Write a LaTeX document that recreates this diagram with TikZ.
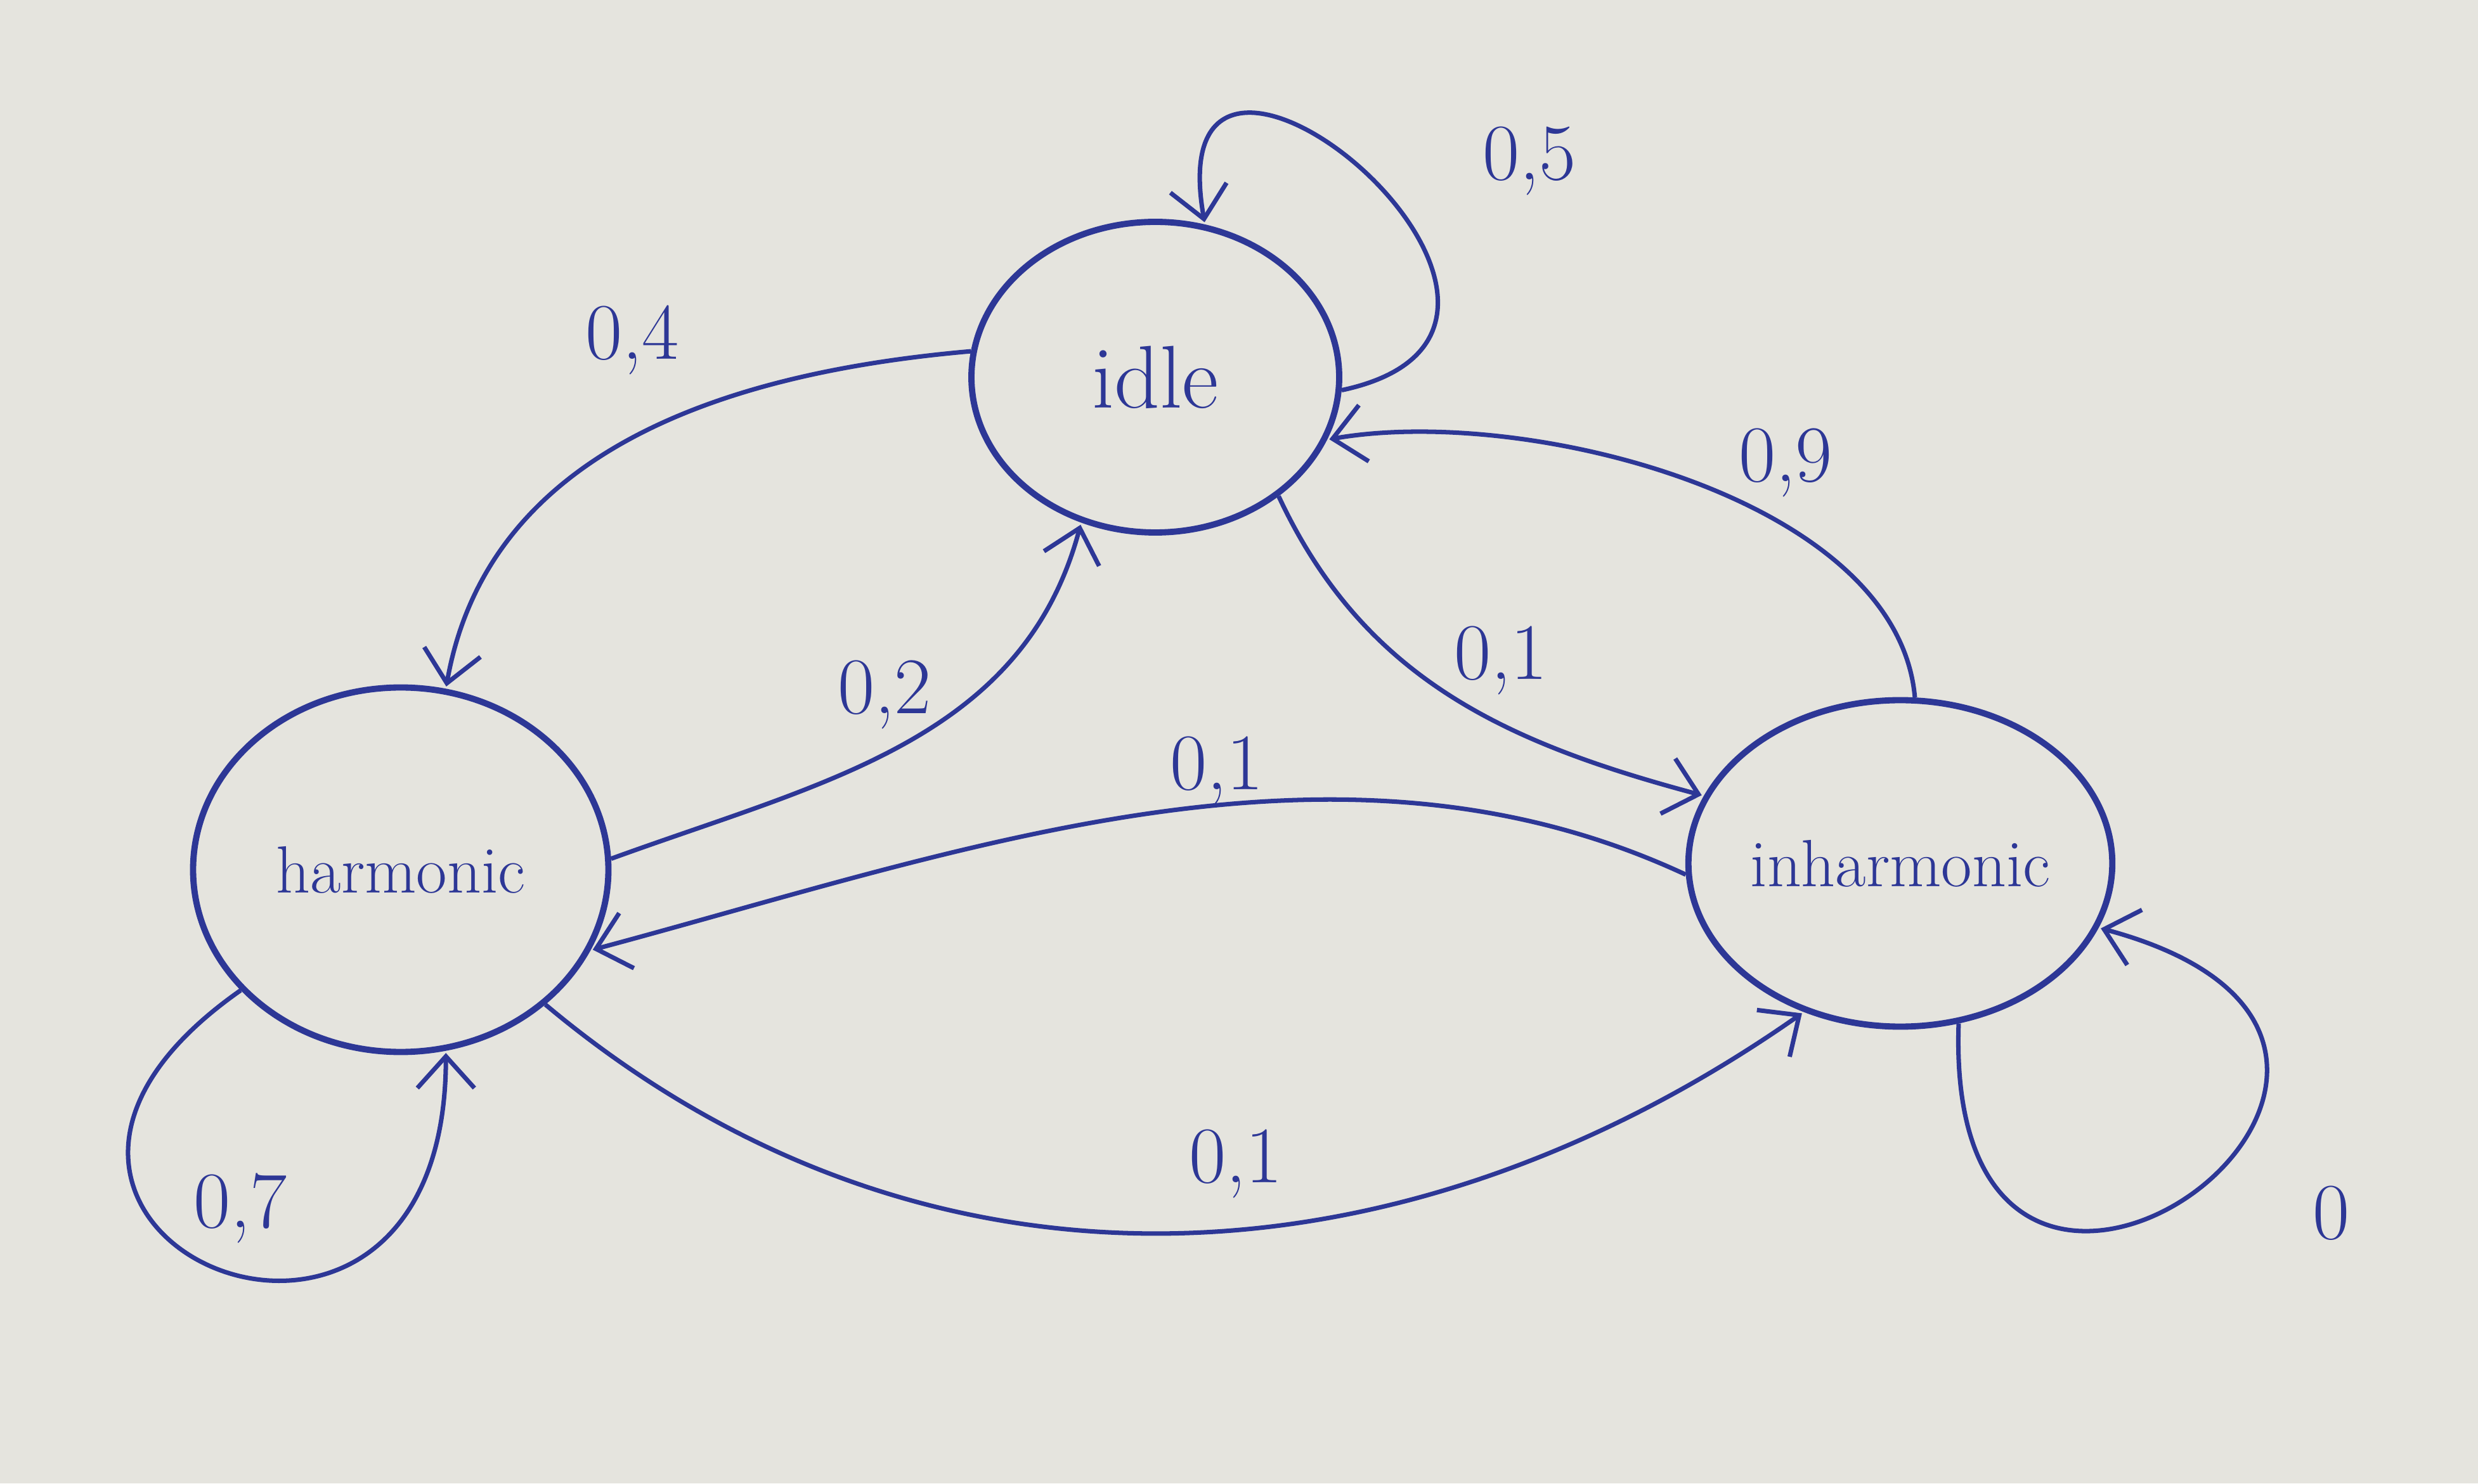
\documentclass[tikz,border=0pt]{standalone}
\usepackage{tikz}
\usetikzlibrary{arrows.meta, automata, shapes.geometric}

\definecolor{ink}{RGB}{45,55,150}
\definecolor{paper}{RGB}{229,228,222}

\begin{document}
\begin{tikzpicture}[
            > = {Straight Barb[length=5mm, width=9mm]}, % arrow head style
            shorten > = 1pt, % don't touch arrow head to node
            auto,
            line width = 2pt,
            color = ink
        ]

        \fill[paper] (0,0) rectangle (39.08,23.4);
        \useasboundingbox (0,0) rectangle (39.08,23.4);

        \tikzstyle{every state}=[
            draw = ink,
            ellipse,
            line width = 2.8pt,
            inner sep = 0pt,
            font = \fontsize{30}{36}\selectfont
        ]

        \tikzstyle{prob}=[
            font = \fontsize{36}{43}\selectfont
        ]

        \node[state, minimum width=5.8cm, minimum height=4.9cm] (idle) at (18.22,17.45) {\fontsize{40}{48}\selectfont idle};
        \node[state, minimum width=6.55cm, minimum height=5.75cm] (harmonic) at (6.32,9.68) {harmonic};
        \node[state, minimum width=5.55cm, minimum height=5.15cm] (inharmonic) at (29.97,9.78) {inharmonic};

        \node[prob] (p5) at (24.12,20.86) {0,5};
        \node[prob] (p4) at (9.97,18.04) {0,4};
        \node[prob] (p2) at (13.95,12.44) {0,2};
        \node[prob] (p1a) at (23.67,12.98) {0,1};
        \node[prob] (p9) at (28.16,16.10) {0,9};
        \node[prob] (p1b) at (19.19,11.24) {0,1};
        \node[prob] (p1c) at (19.49,5.04) {0,1};
        \node[prob] (p7) at (3.79,4.34) {0,7};
        \node[prob] (p0) at (36.76,4.26) {0};

        \path[->] (idle.-4) edge[out=12, in=100, looseness=3.6] (idle.72);
        \path[->] (idle.172) edge[out=185, in=80] (harmonic.76);
        \path[->] (harmonic.3) edge[out=20, in=255] (idle.243);
        \path[->] (idle.-44) edge[out=-65, in=165] (inharmonic.161);
        \path[->] (inharmonic.85) edge[out=95, in=10, looseness=0.8] (idle.-20);
        \path[->] (inharmonic.183) edge[out=155, in=15, looseness=0.9] (harmonic.-23);
        \path[->] (harmonic.-43) edge[out=-40, in=215] (inharmonic.237);
        \path[->] (harmonic.217) edge[out=215, in=270, looseness=5] (harmonic.284);
        \path[->] (inharmonic.-70) edge[out=-92, in=-15, looseness=7] (inharmonic.-18);

    \end{tikzpicture}
\end{document}
